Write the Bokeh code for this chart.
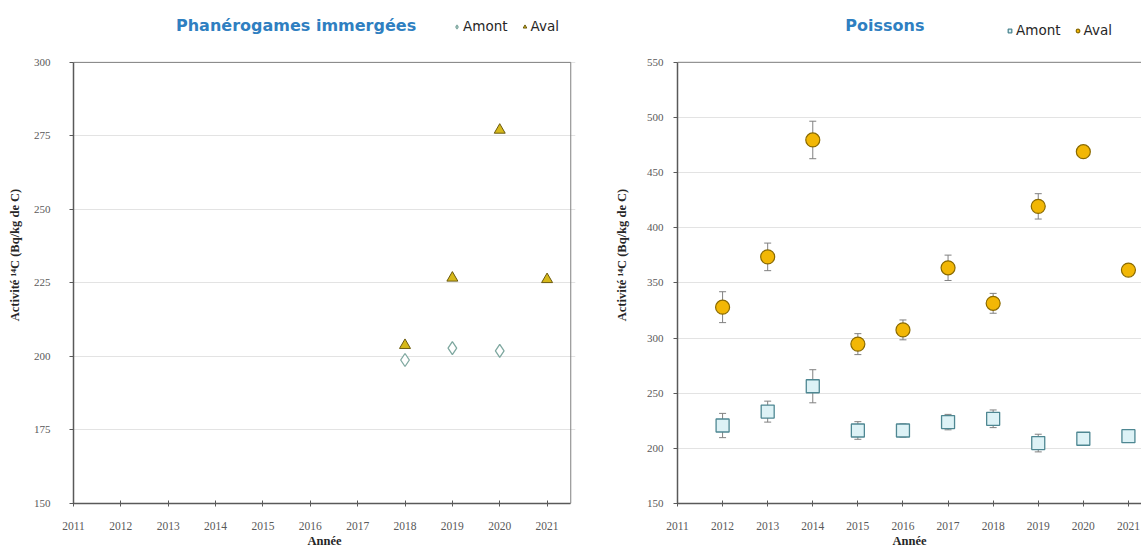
from bokeh.plotting import figure
from bokeh.layouts import row
from bokeh.models import (ColumnDataSource, Whisker, Legend, LegendItem, Label,
                          FixedTicker, Range1d, TeeHead)
from bokeh.embed import file_html
from bokeh.resources import INLINE

# ---------------- data ----------------
years_all = [2011, 2012, 2013, 2014, 2015, 2016, 2017, 2018, 2019, 2020, 2021]

# Phanérogames immergées
phan_yticks = [150, 175, 200, 225, 250, 275, 300]
phan_amont_years = [2018, 2019, 2020]
phan_amont_vals = [198.8, 202.8, 201.9]
phan_aval_years = [2018, 2019, 2020, 2021]
phan_aval_vals = [203.8, 226.7, 277.0, 226.2]

# Poissons
pois_yticks = [150, 200, 250, 300, 350, 400, 450, 500, 550]
pois_years = [2012, 2013, 2014, 2015, 2016, 2017, 2018, 2019, 2020, 2021]
pois_amont_vals = [220.7, 233.3, 256.3, 216.2, 216.2, 223.8, 226.8, 204.8, 208.7, 211.0]
pois_amont_err = [11, 9.5, 15, 8, 6, 7, 8, 8, 4, 4]
pois_aval_vals = [328.0, 373.6, 479.6, 294.5, 307.4, 363.7, 331.5, 419.4, 469.0, 361.6]
pois_aval_err = [14, 12.5, 17, 9.5, 9, 11.5, 9, 11.5, 3, 3]

SERIF = "Liberation Serif"
SANS = "DejaVu Sans"
TITLE_BLUE = "#2F7FC1"
YLABEL = "Activité ¹⁴C (Bq/kg de C)"
X_LO, X_HI = 2011, 2021.5


def style(p, yticks):
    p.outline_line_color = None
    p.xgrid.visible = False
    p.ygrid.grid_line_color = "#E3E3E3"
    p.ygrid.grid_line_width = 1
    p.xaxis.ticker = FixedTicker(ticks=years_all)
    p.yaxis.ticker = FixedTicker(ticks=yticks)
    p.yaxis.bounds = (yticks[0], yticks[-1])
    p.xaxis.bounds = (X_LO, X_HI)
    for ax in (p.xaxis[0], p.yaxis[0]):
        ax.axis_line_color = "#595959"
        ax.axis_line_width = 1.5
        ax.major_tick_line_color = "#595959"
        ax.minor_tick_line_color = None
        ax.major_label_text_font = SERIF
        ax.major_label_text_font_size = "11px"
        ax.major_label_text_color = "#595959"
        ax.axis_label_text_font = SERIF
        ax.axis_label_text_font_style = "bold"
        ax.axis_label_text_font_size = "12.5px"
        ax.axis_label_text_color = "#262626"
    p.xaxis.major_label_text_font_size = "11.5px"
    p.yaxis.major_tick_out = 4
    p.yaxis.major_tick_in = 0
    p.xaxis.major_tick_out = 3
    p.xaxis.major_tick_in = 3
    p.xaxis.major_label_standoff = 15
    p.xaxis.axis_label_standoff = 1
    p.xaxis.axis_label = "Année"
    p.yaxis.axis_label = YLABEL
    # plot-area border box
    p.quad(left=[X_LO], right=[X_HI], bottom=[yticks[0]], top=[yticks[-1]],
           fill_color=None, line_color="#808080", line_width=1)


def make_legend(items, x, y):
    return Legend(items=items, orientation="horizontal", location=(x, y),
                  label_text_font=SANS, label_text_font_size="13.5px",
                  label_text_color="#262626", glyph_width=9, glyph_height=9,
                  spacing=12, label_standoff=2, padding=0, margin=0,
                  label_height=14,
                  background_fill_alpha=0, border_line_color=None)


def make_title(text, x, y):
    return Label(x=x, y=y, text=text, text_font=SANS, text_font_style="bold",
                 text_font_size="16px", text_color=TITLE_BLUE,
                 text_align="center", text_baseline="middle")


# ---------------- left panel ----------------
p1 = figure(width=600, height=550, output_backend="svg", toolbar_location=None,
            x_range=Range1d(2011, 2021.6), y_range=Range1d(150, 319),
            min_border_left=73, min_border_right=25, min_border_top=6,
            min_border_bottom=45)
style(p1, phan_yticks)
p1.yaxis.major_label_standoff = 19
p1.yaxis.axis_label_standoff = 9

src_pa = ColumnDataSource(dict(x=phan_amont_years, y=phan_amont_vals))
src_pv = ColumnDataSource(dict(x=phan_aval_years, y=phan_aval_vals))
r_pa = p1.scatter("x", "y", source=src_pa, marker="diamond", size=13,
                  fill_color="#FFFFFF", line_color="#7FA8A0", line_width=1.3)
r_pv = p1.scatter("x", "y", source=src_pv, marker="triangle", size=11,
                  fill_color="#D6B81A", line_color="#6B5A10", line_width=1)

p1.add_layout(make_title("Phanérogames immergées", 2015.7, 312.5))
p1.add_layout(make_legend([LegendItem(label="Amont", renderers=[r_pa]),
                           LegendItem(label="Aval", renderers=[r_pv])],
                          379, 469), "center")

# ---------------- right panel ----------------
p2 = figure(width=541, height=550, output_backend="svg", toolbar_location=None,
            x_range=Range1d(2011, 2021.29), y_range=Range1d(150, 600.6),
            min_border_left=77, min_border_right=0, min_border_top=6,
            min_border_bottom=45)
style(p2, pois_yticks)
p2.yaxis.major_label_standoff = 10
p2.yaxis.axis_label_standoff = 15

am_lo = [v - e for v, e in zip(pois_amont_vals, pois_amont_err)]
am_hi = [v + e for v, e in zip(pois_amont_vals, pois_amont_err)]
av_lo = [v - e for v, e in zip(pois_aval_vals, pois_aval_err)]
av_hi = [v + e for v, e in zip(pois_aval_vals, pois_aval_err)]
src_am = ColumnDataSource(dict(x=pois_years, y=pois_amont_vals, lo=am_lo, hi=am_hi))
src_av = ColumnDataSource(dict(x=pois_years, y=pois_aval_vals, lo=av_lo, hi=av_hi))

for s in (src_am, src_av):
    w = Whisker(source=s, base="x", lower="lo", upper="hi", dimension="height",
                line_color="#808080", line_width=1,
                lower_head=TeeHead(size=7, line_color="#808080", line_width=1),
                upper_head=TeeHead(size=7, line_color="#808080", line_width=1))
    p2.add_layout(w)

r_am = p2.scatter("x", "y", source=src_am, marker="square", size=13,
                  fill_color="#DDF2F6", line_color="#4E8792", line_width=1.3)
r_av = p2.scatter("x", "y", source=src_av, marker="circle", size=14,
                  fill_color="#F2B705", line_color="#8A6A00", line_width=1.2)

p2.add_layout(make_title("Poissons", 2015.6, 583.4))
p2.add_layout(make_legend([LegendItem(label="Amont", renderers=[r_am]),
                           LegendItem(label="Aval", renderers=[r_av])],
                          328, 465), "center")

layout = row(p1, p2)
open("out.html", "w").write(file_html(layout, INLINE))
